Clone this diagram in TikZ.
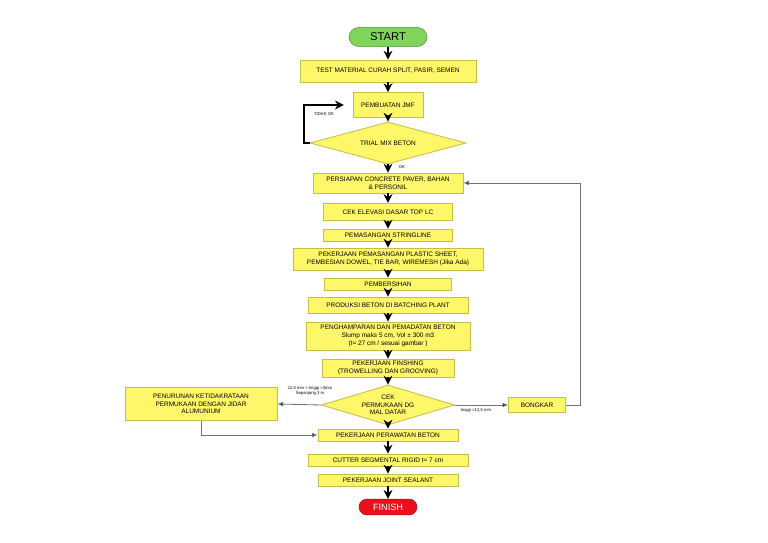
\documentclass[tikz,border=0pt]{standalone}
\usepackage{fontspec}
\setmainfont{Liberation Sans}
\usetikzlibrary{shapes.geometric,arrows.meta}
\definecolor{kuning}{HTML}{FFF76A}
\definecolor{garis}{HTML}{C9BC45}
\definecolor{hijau}{HTML}{7ED55A}
\definecolor{merah}{HTML}{E8101A}

\begin{document}
\begin{tikzpicture}[x=0.025cm, y=-0.025cm]
\tikzset{kotak/.style={draw=garis, fill=kuning, line width=0.6pt, inner sep=1pt, align=center, font=\fontsize{4.6}{5.4}\selectfont},
  belah/.style={diamond, draw=garis, fill=kuning, line width=0.6pt, inner sep=0pt, aspect=3.5, align=center, font=\fontsize{4.6}{5.4}\selectfont},
  alir/.style={line width=1.3pt, -{Stealth[length=2.2mm, width=2.2mm]}},
  tipis/.style={draw=black!55, line width=0.6pt, -{Latex[length=1.4mm, width=1.2mm, fill=black]}},
  ket/.style={inner sep=0.5pt, font=\fontsize{3}{3.6}\selectfont, align=center}}
\useasboundingbox (0,0) rectangle (768,543);
\node[draw=hijau!70!black, fill=hijau, rounded corners=2.5mm, minimum width=1.95cm, minimum height=0.48cm, font=\fontsize{8}{9}\selectfont] (S) at (388,37) {START};
\node[kotak, minimum width=4.4cm, minimum height=0.55cm] (B1) at (388,71) {TEST MATERIAL CURAH SPLIT, PASIR, SEMEN};
\node[kotak, minimum width=1.75cm, minimum height=0.62cm] (B2) at (388,105) {PEMBUATAN JMF};
\node[belah, minimum width=3.9cm, minimum height=1.05cm] (D1) at (388,143) {TRIAL MIX BETON};
\node[kotak, minimum width=3.75cm, minimum height=0.5cm] (B3) at (388,183) {PERSIAPAN CONCRETE PAVER, BAHAN\\\& PERSONIL};
\node[kotak, minimum width=3.22cm, minimum height=0.43cm] (B4) at (388,212) {CEK ELEVASI DASAR TOP LC};
\node[kotak, minimum width=3.22cm, minimum height=0.3cm] (B5) at (388,235) {PEMASANGAN STRINGLINE};
\node[kotak, minimum width=4.75cm, minimum height=0.55cm] (B6) at (388,259) {PEKERJAAN PEMASANGAN PLASTIC SHEET,\\PEMBESIAN DOWEL, TIE BAR, WIREMESH (Jika Ada)};
\node[kotak, minimum width=3.18cm, minimum height=0.3cm] (B7) at (388,284) {PEMBERSIHAN};
\node[kotak, minimum width=4.0cm, minimum height=0.4cm] (B8) at (388,305) {PRODUKSI BETON DI BATCHING PLANT};
\node[kotak, minimum width=4.1cm, minimum height=0.7cm] (B9) at (388,336) {PENGHAMPARAN DAN PEMADATAN BETON\\Slump maks 5 cm, Vol ± 300 m3\\(t= 27 cm / sesuai gambar )};
\node[kotak, minimum width=3.3cm, minimum height=0.45cm] (B10) at (388,368) {PEKERJAAN FINSHING\\(TROWELLING DAN GROOVING)};
\node[belah, minimum width=3.33cm, minimum height=1.0cm] (D2) at (388,405) {CEK\\PERMUKAAN DG\\MAL DATAR};
\node[kotak, minimum width=1.42cm, minimum height=0.38cm] (BK) at (537,405) {BONGKAR};
\node[kotak, minimum width=3.8cm, minimum height=0.82cm] (PN) at (201,404) {PENURUNAN KETIDAKRATAAN\\PERMUKAAN DENGAN JIDAR\\ALUMUNIUM};
\node[kotak, minimum width=3.5cm, minimum height=0.3cm] (B11) at (388,435) {PEKERJAAN PERAWATAN BETON};
\node[kotak, minimum width=4.0cm, minimum height=0.3cm] (B12) at (388,460) {CUTTER SEGMENTAL RIGID t= 7 cm};
\node[kotak, minimum width=3.5cm, minimum height=0.3cm] (B13) at (388,480) {PEKERJAAN JOINT SEALANT};
\node[draw=merah!80!black, fill=merah, text=white, rounded corners=2mm, minimum width=1.45cm, minimum height=0.36cm, font=\fontsize{6.5}{7.5}\selectfont] (F) at (388,507) {FINISH};
\coordinate (K1) at (304,143);
\coordinate (K2) at (580,405);
% alur utama
\draw[alir] (S) -- (B1);
\draw[alir] (B1) -- (B2);
\draw[alir] (B2) -- (D1);
\draw[alir] (D1) -- (B3);
\draw[alir] (B3) -- (B4);
\draw[alir] (B4) -- (B5);
\draw[alir] (B5) -- (B6);
\draw[alir] (B6) -- (B7);
\draw[alir] (B7) -- (B8);
\draw[alir] (B8) -- (B9);
\draw[alir] (B9) -- (B10);
\draw[alir] (B10) -- (D2);
\draw[alir] (D2) -- (B11);
\draw[alir] (B11) -- (B12);
\draw[alir] (B12) -- (B13);
\draw[alir] (B13) -- (F);
\draw[alir, shorten >=0.22cm] (D1.west) -- (K1) |- (B2.west);
% cabang
\draw[tipis] (D2.east) -- (BK.west);
\draw[tipis] (BK.east) -- (K2) |- (B3.east);
\draw[tipis] (D2.west) -- (PN.east);
\draw[tipis] (PN.south) |- (B11.west);
\node[ket] (L1) at (324,114) {TIDAK OK};
\node[ket] (L2) at (402,167) {OK};
\node[ket] (L3) at (310,391) {12.5 mm > tinggi >3mm\\Sepanjang 3 m};
\node[ket] (L4) at (476,410) {tinggi >12,5 mm};
\end{tikzpicture}
\end{document}
